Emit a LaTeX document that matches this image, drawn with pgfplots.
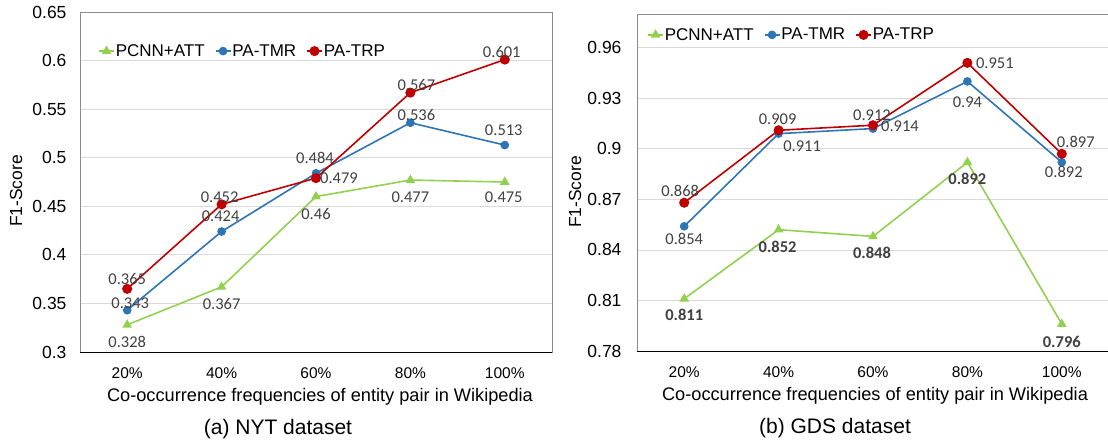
\documentclass[border=0pt]{standalone}
\usepackage{pgfplots}
\pgfplotsset{compat=1.18}
\usepackage{fontspec}
\setmainfont{Liberation Sans}
\newfontfamily\lblfont{Carlito}
\definecolor{cRed}{HTML}{C00000}
\definecolor{cBlue}{HTML}{2E75B6}
\definecolor{cGreen}{HTML}{92D050}
\definecolor{cLab}{HTML}{404040}
\definecolor{cGrid}{HTML}{D9D9D9}
\definecolor{cFrame}{HTML}{8C8C8C}

\pgfplotsset{
  f1/.style={
    scale only axis, width=472pt,
    xmin=-0.5, xmax=4.5, xtick={0,1,2,3,4},
    xticklabels={20\%,40\%,60\%,80\%,100\%},
    major tick length=0pt,
    ymajorgrids, grid style={cGrid, line width=0.8pt},
    axis line style={cFrame, line width=0.9pt},
    /pgf/number format/assume math mode=true,
    tick label style={font=\fontsize{17.5}{20}\selectfont},
    xticklabel style={anchor=center, yshift=-21pt, font=\fontsize{15.5}{18}\selectfont},
    yticklabel style={anchor=east, xshift=-10pt},
    ylabel={F1-Score},
    xlabel={Co-occurrence frequencies of entity pair in Wikipedia},
    every axis x label/.style={at={(rel axis cs:0.5,0)}, anchor=center, yshift=-45pt,
      font=\fontsize{18.2}{20}\selectfont},
    every axis title/.style={at={(rel axis cs:0.5,0)}, anchor=center, yshift=-77pt, xshift=-38pt,
      font=\fontsize{21}{24}\selectfont},
    clip=false,
    legend columns=3,
    legend style={draw=none, fill=none, inner sep=0pt, anchor=west,
      font=\fontsize{17}{20}\selectfont, nodes={inner sep=1pt},
      /tikz/every even column/.append style={column sep=9pt}},
    legend image code/.code={\draw[mark repeat=2, mark phase=2] plot coordinates {(0pt,0pt) (7.5pt,0pt) (15pt,0pt)};},
    extra description/.code={\draw[black, line width=0.9pt] (rel axis cs:0,0) -- (rel axis cs:1,0);},
  },
  lbl/.style={
    point meta=explicit symbolic,
    nodes near coords,
    visualization depends on={\thisrow{dx}\as\dx},
    visualization depends on={\thisrow{dy}\as\dy},
    nodes near coords style={anchor=center, xshift=\dx*1pt, yshift=\dy*1pt, text=cLab, inner sep=0pt,
      font=\lblfont\fontsize{16.5}{18}\selectfont},
  },
  pcnn/.style={cGreen, line width=1.6pt, mark=triangle*, mark size=4pt, mark options={solid}},
  tmr/.style={cBlue, line width=1.6pt, mark=*, mark size=3.5pt, mark options={solid}},
  trp/.style={cRed, line width=1.6pt, mark=*, mark size=4.2pt, mark options={solid}},
}

\begin{document}
\begin{tikzpicture}
\useasboundingbox (0,0) rectangle (1108pt,445pt);

% (a) NYT
\begin{axis}[f1, at={(80pt,93pt)}, anchor=south west, height=340pt,
  ymin=0.3, ymax=0.65, ytick={0.3,0.35,0.4,0.45,0.5,0.55,0.6,0.65},
  every axis y label/.style={at={(rel axis cs:0,0.5)}, xshift=-64pt, yshift=-9pt, rotate=90,
    anchor=center, font=\fontsize{17.5}{20}\selectfont},
  xlabel style={xshift=4pt},
  title={(a) NYT dataset},
  legend style={at={(rel axis cs:0,0.885)}, xshift=18pt}]
\addplot[pcnn, lbl] table[meta=lab] {
x y lab dx dy
0 0.328 0.328 0 -17
1 0.367 0.367 0 -17
2 0.46 0.46 0 -17
3 0.477 0.477 0 -17
4 0.475 0.475 -1 -15
};
\addplot[tmr, lbl] table[meta=lab] {
x y lab dx dy
0 0.343 0.343 3 7
1 0.424 0.424 -1 15
2 0.484 0.484 -1 15
3 0.536 0.536 6 8
4 0.513 0.513 -1 15
};
\addplot[trp, lbl] table[meta=lab] {
x y lab dx dy
0 0.365 0.365 0 10
1 0.452 0.452 -2 7
2 0.479 0.479 23 0
3 0.567 0.567 6 8
4 0.601 0.601 -3 8
};
\legend{PCNN+ATT,PA-TMR,PA-TRP}
\end{axis}

% (b) GDS
\begin{axis}[f1, at={(637pt,94pt)}, anchor=south west, height=337pt,
  ymin=0.78, ymax=0.98, ytick={0.78,0.81,0.84,0.87,0.9,0.93,0.96},
  yticklabel style={xshift=-2pt},
  every axis y label/.style={at={(rel axis cs:0,0.5)}, xshift=-62pt, yshift=-9.5pt, rotate=90,
    anchor=center, font=\fontsize{17.5}{20}\selectfont},
  xlabel style={xshift=2pt},
  title={(b) GDS dataset},
  legend style={at={(rel axis cs:0,0.938)}, xshift=10pt}]
\addplot[pcnn, lbl, nodes near coords style={font=\lblfont\bfseries\fontsize{16.5}{18}\selectfont}] table[meta=lab] {
x y lab dx dy
0 0.811 0.811 0 -16
1 0.852 0.852 -1 -17
2 0.848 0.848 -1 -16
3 0.892 0.892 0 -17
4 0.796 0.796 0 -18
};
\addplot[tmr, lbl] table[meta=lab] {
x y lab dx dy
0 0.854 0.854 0 -13
1 0.909 0.911 23.5 -13
2 0.912 0.914 27 2
3 0.94 0.94 0 -21
4 0.892 0.892 2 -10
};
\addplot[trp, lbl] table[meta=lab] {
x y lab dx dy
0 0.868 0.868 -4 12
1 0.911 0.909 -1 11.5
2 0.914 0.912 -1 10
3 0.951 0.951 27.5 0
4 0.897 0.897 14 12
};
\legend{PCNN+ATT,PA-TMR,PA-TRP}
\end{axis}
\end{tikzpicture}
\end{document}
